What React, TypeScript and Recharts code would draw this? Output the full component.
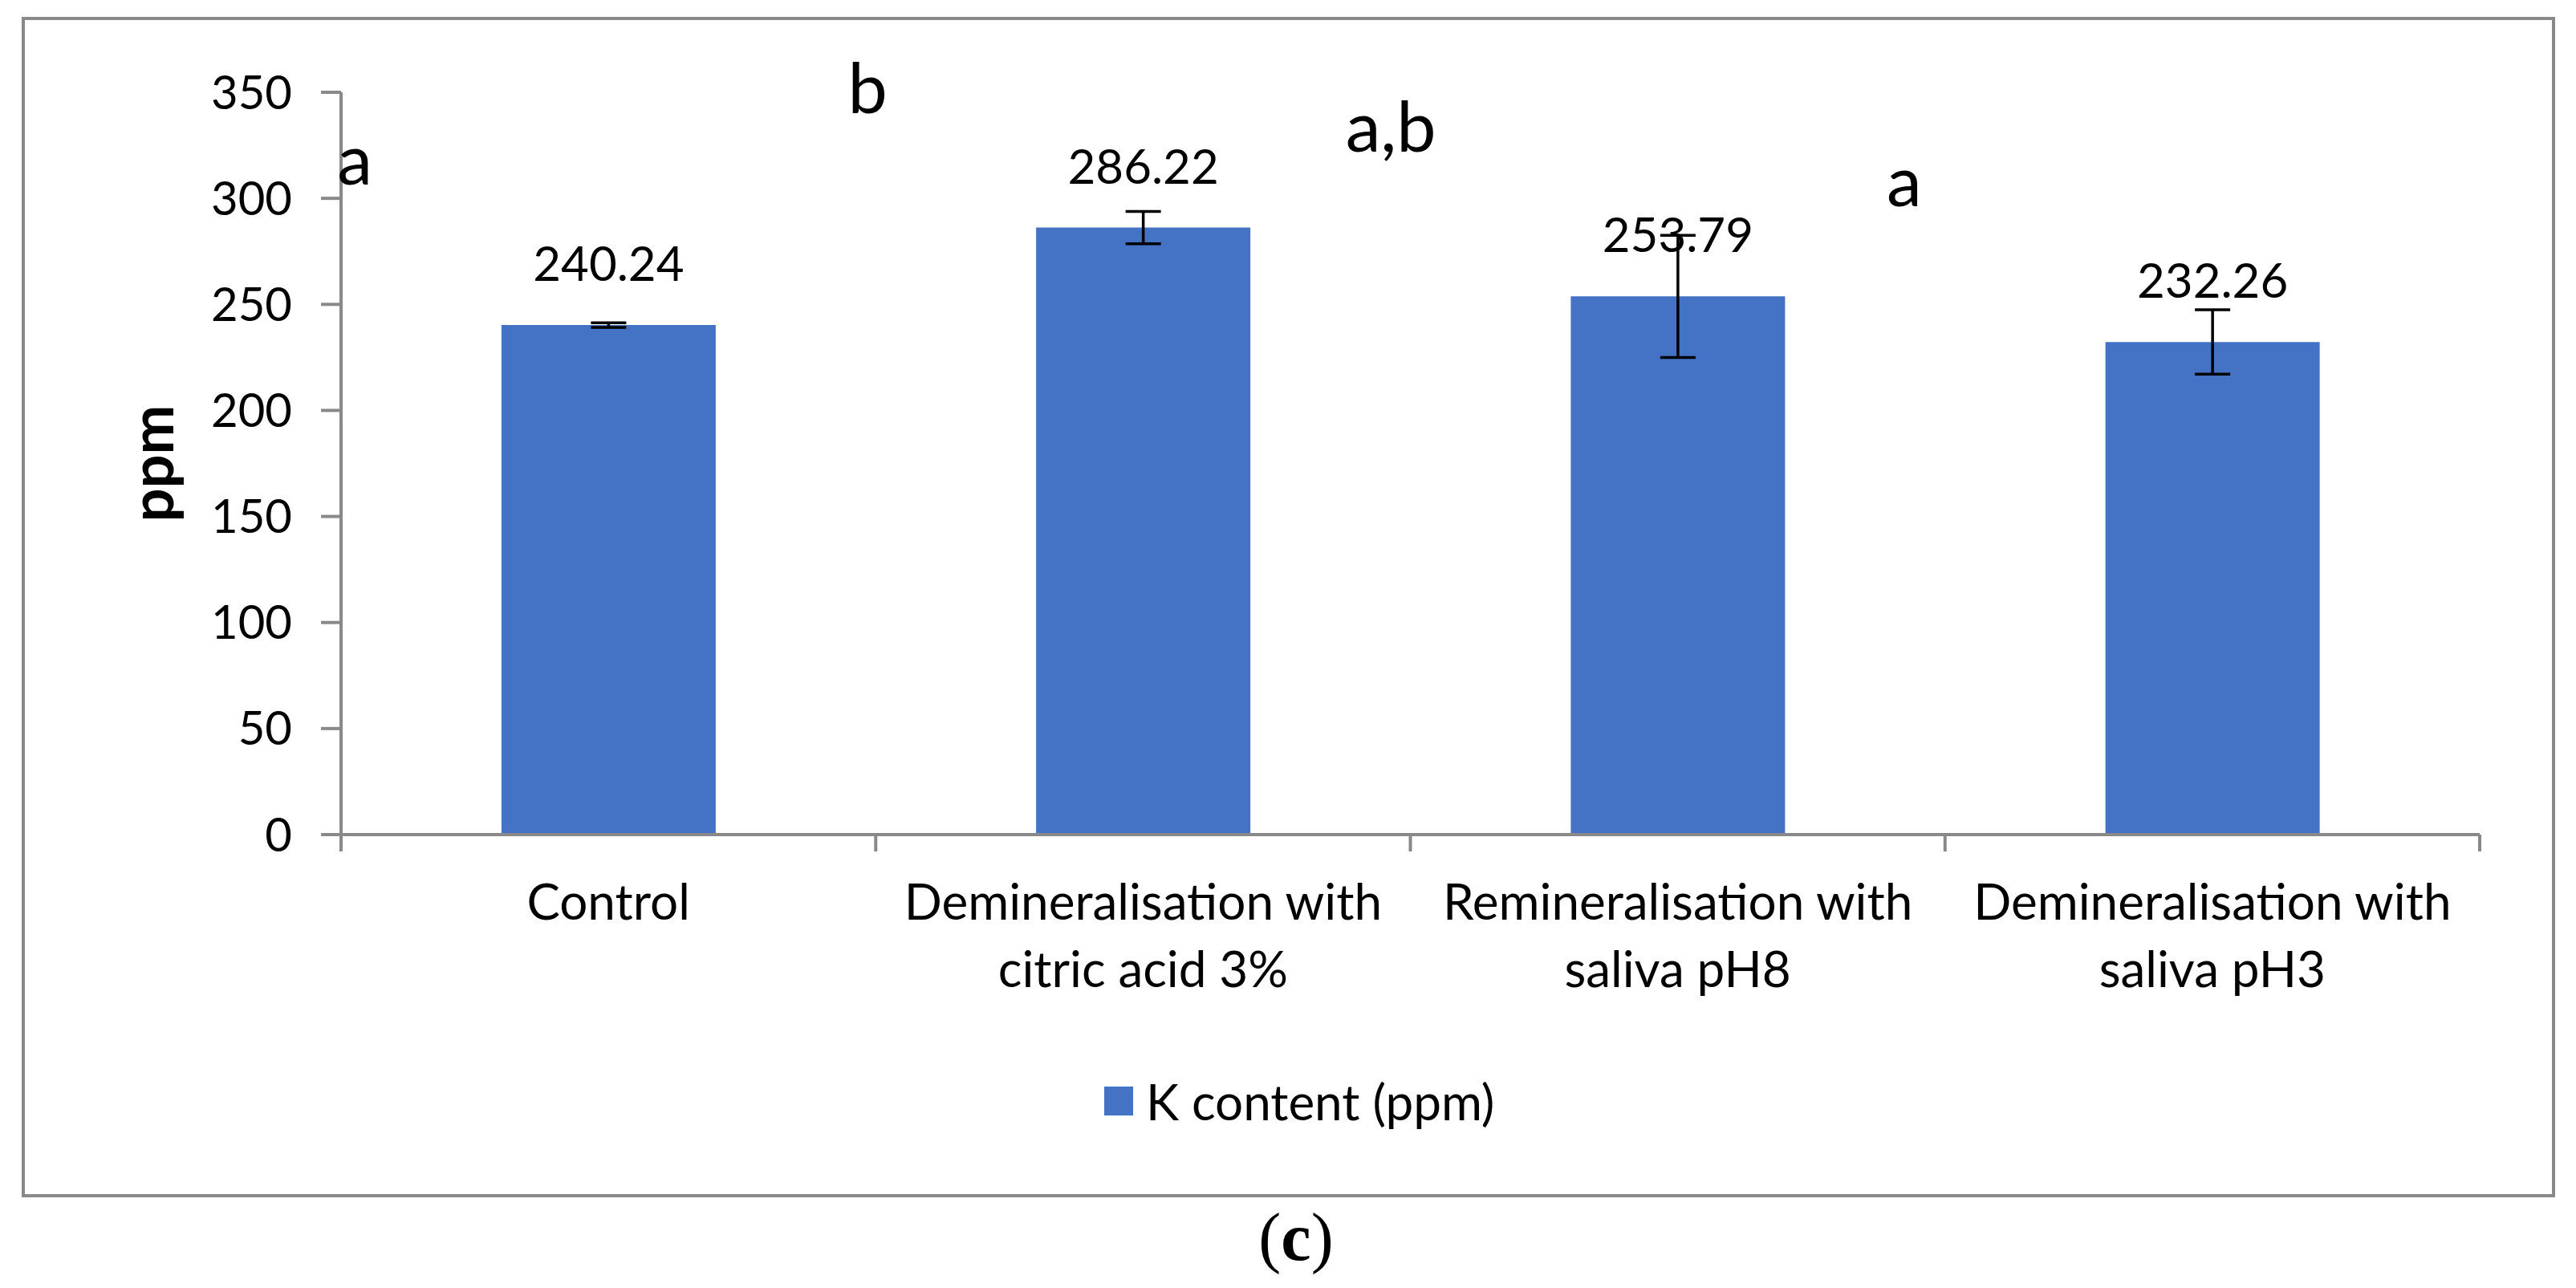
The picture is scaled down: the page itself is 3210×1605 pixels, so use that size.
import React from "react";
import {
  BarChart,
  Bar,
  XAxis,
  YAxis,
  ErrorBar,
  LabelList,
  Legend,
  ReferenceDot,
} from "recharts";

const categories = [
  "Control",
  "Demineralisation with citric acid 3%",
  "Remineralisation with saliva pH8",
  "Demineralisation with saliva pH3",
];
const kContent = [240.24, 286.22, 253.79, 232.26];
const kError = [1.1, 7.6, 28.8, 15.2];
const groupLetters = ["a", "b", "a,b", "a"];
const yTicks = [0, 50, 100, 150, 200, 250, 300, 350];

// where the significance letters sit (ppm level of baseline, px from category centre)
const LETTER_Y = [306.5, 340.2, 322, 296.3];
const LETTER_DX = [-338, -368, -414, -406];

const FONT = "Lato, 'Liberation Sans', sans-serif";
const AXIS = "#898989";
const BLUE = "#4472C4";

const data = categories.map((name, i) => ({
  name,
  value: kContent[i],
  err: kError[i],
}));

const CategoryTick = (props: any) => {
  const { x, y, payload, index, width } = props;
  const half = payload?.offset ?? width / categories.length / 2;
  const label: string = payload.value;
  const cut = label.indexOf(" with ");
  const lines = cut < 0 ? [label] : [label.slice(0, cut + 5), label.slice(cut + 6)];
  const last = index === categories.length - 1;
  return (
    <g>
      <line x1={x - half} y1={y} x2={x - half} y2={y + 21} stroke={AXIS} strokeWidth={4} />
      {last && (
        <line x1={x + half} y1={y} x2={x + half} y2={y + 21} stroke={AXIS} strokeWidth={4} />
      )}
      {lines.map((ln, i) => (
        <text
          key={i}
          x={x}
          y={y + 106 + i * 84}
          textAnchor="middle"
          fontSize={62}
          fontFamily={FONT}
          fill="#000"
        >
          {ln}
        </text>
      ))}
    </g>
  );
};

const renderLegend = (props: any) => {
  const item = props.payload && props.payload[0];
  return (
    <div style={{ display: "flex", alignItems: "center", height: 80 }}>
      <div style={{ width: 36, height: 36, background: BLUE, marginRight: 16 }} />
      <span style={{ fontSize: 62, fontFamily: FONT, color: "#000", lineHeight: "80px" }}>
        {item ? item.value : "K content (ppm)"}
      </span>
    </div>
  );
};

export default function App() {
  return (
    <div
      style={{
        position: "absolute",
        left: 0,
        top: 0,
        width: 3210,
        height: 1605,
        background: "#fff",
        overflow: "hidden",
      }}
    >
      <div
        style={{
          position: "absolute",
          left: 27,
          top: 21,
          width: 3157,
          height: 1471,
          border: `4px solid ${AXIS}`,
          boxSizing: "border-box",
        }}
      />
      <div style={{ position: "absolute", left: 0, top: 0 }}>
        <BarChart
          width={3210}
          height={1605}
          data={data}
          margin={{ top: 115, right: 120, left: 165, bottom: 365 }}
          barCategoryGap="30%"
        >
          <XAxis
            dataKey="name"
            height={200}
            axisLine={{ stroke: AXIS, strokeWidth: 4 }}
            tickLine={false}
            tickSize={0}
            tickMargin={0}
            interval={0}
            tick={<CategoryTick />}
          />
          <YAxis
            width={260}
            domain={[0, 350]}
            ticks={yTicks}
            interval={0}
            axisLine={{ stroke: AXIS, strokeWidth: 4 }}
            tickLine={{ stroke: AXIS, strokeWidth: 4 }}
            tickSize={25}
            tickMargin={36}
            tick={{ fontSize: 58, fill: "#000", fontFamily: FONT }}
            label={{
              value: "ppm",
              content: (p: any) => {
                const vb = p.viewBox;
                const cx = vb.x + vb.width - 209;
                const cy = vb.y + vb.height / 2;
                return (
                  <text
                    x={cx}
                    y={cy}
                    transform={`rotate(-90, ${cx}, ${cy})`}
                    textAnchor="middle"
                    fontSize={74}
                    fontWeight="bold"
                    fontFamily={FONT}
                    fill="#000"
                  >
                    ppm
                  </text>
                );
              },
            }}
          />
          <Legend
            layout="vertical"
            align="center"
            verticalAlign="middle"
            wrapperStyle={{ left: 1376, top: 1332, width: 600, height: 80 }}
            content={renderLegend}
          />
          <Bar dataKey="value" name="K content (ppm)" fill={BLUE} isAnimationActive={false}>
            <ErrorBar
              dataKey="err"
              direction="y"
              width={22}
              strokeWidth={3.5}
              stroke="#000"
              isAnimationActive={false}
            />
            <LabelList
              dataKey="value"
              position="top"
              offset={55}
              formatter={(v: any) => Number(v).toFixed(2)}
              style={{ fontSize: 60, fontFamily: FONT, fill: "#000" }}
            />
          </Bar>
          {groupLetters.map((letter, i) => (
            <ReferenceDot
              key={i}
              x={categories[i]}
              y={LETTER_Y[i]}
              r={0}
              fill="none"
              stroke="none"
              ifOverflow="visible"
              label={{
                value: letter,
                content: (p: any) => (
                  <text
                    x={p.viewBox.x + LETTER_DX[i]}
                    y={p.viewBox.y}
                    fontSize={88}
                    fontFamily={FONT}
                    fill="#000"
                  >
                    {letter}
                  </text>
                ),
              }}
            />
          ))}
        </BarChart>
      </div>
      <div
        style={{
          position: "absolute",
          left: 10,
          top: 1500,
          width: 3210,
          textAlign: "center",
          fontFamily: "'Liberation Serif', serif",
          fontSize: 84,
          lineHeight: 1,
          color: "#000",
        }}
      >
        (<b>c</b>)
      </div>
    </div>
  );
}
